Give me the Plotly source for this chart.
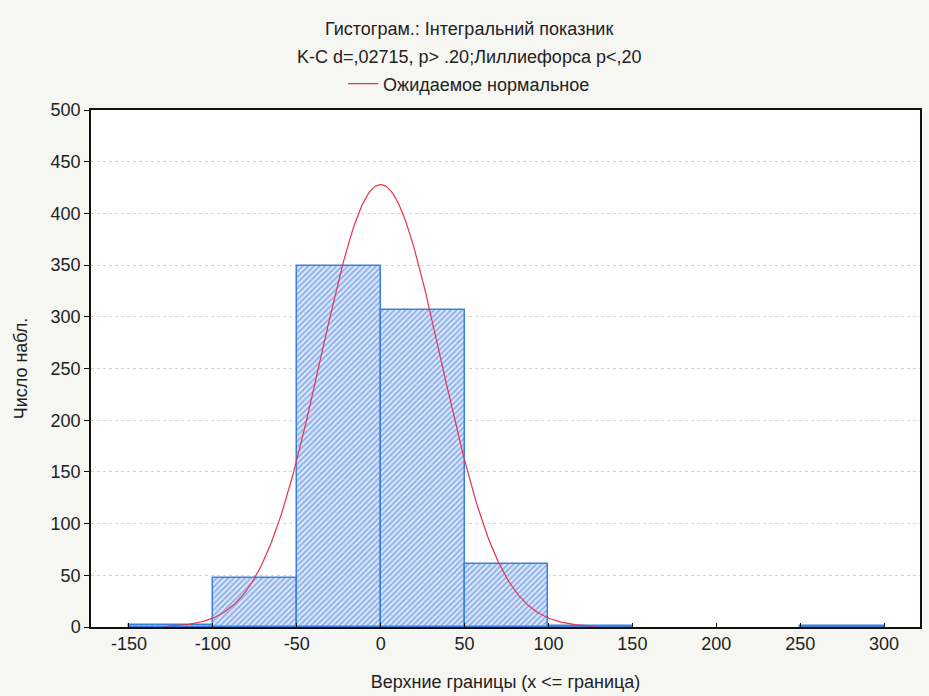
import numpy as np
import plotly.graph_objects as go

# Histogram data (bin upper bounds and counts)
bin_upper = [-100, -50, 0, 50, 100, 150, 200, 250, 300]
counts = [2, 47, 349, 307, 61, 1, 0, 0, 1]
bin_width = 50

# Expected normal parameters
norm_n = 768
norm_mean = 0.0
norm_sd = 35.8
curve_lo, curve_hi = -128, 128

x_ticks = [-150, -100, -50, 0, 50, 100, 150, 200, 250, 300]
y_ticks = [0, 50, 100, 150, 200, 250, 300, 350, 400, 450, 500]

centers = [u - bin_width / 2 for u in bin_upper]
bx = [c for c, n in zip(centers, counts) if n > 0]
by = [n for n in counts if n > 0]

xs = np.linspace(curve_lo, curve_hi, 300)
ys = norm_n * bin_width / (norm_sd * np.sqrt(2 * np.pi)) * np.exp(-0.5 * ((xs - norm_mean) / norm_sd) ** 2)

fig = go.Figure()
fig.add_trace(go.Bar(
    x=bx, y=by, width=bin_width,
    marker=dict(color="#dde8fa",
                line=dict(color="#3a80de", width=1.5),
                pattern=dict(shape="/", fgcolor="#3b79da", bgcolor="#e0eafb", size=4, solidity=0.5)),
    showlegend=False,
))
fig.add_trace(go.Scatter(
    x=xs, y=ys, mode="lines", line=dict(color="#e8324e", width=1.2),
    name="Ожидаемое нормальное", showlegend=True,
))

font = "Liberation Sans, Arial, sans-serif"
FS = 18
L, R, T, B = 91, 7, 110, 69
plot_h = 696 - T - B
plot_w = 929 - L - R
cx = (470 - L) / plot_w

fig.update_layout(
    width=929, height=696,
    margin=dict(l=L, r=R, t=T, b=B),
    paper_bgcolor="#f6f6f3",
    plot_bgcolor="#ffffff",
    font=dict(family=font, size=FS, color="#222222"),
    bargap=0,
    legend=dict(orientation="h", x=cx, xanchor="center", y=(696 - B - 84) / plot_h, yanchor="middle",
                bgcolor="rgba(0,0,0,0)", font=dict(size=FS, color="#222222"),
                itemwidth=30, tracegroupgap=0),
    annotations=[
        dict(text="Гистограм.: Інтегральний показник", x=cx, y=(696 - B - 29) / plot_h,
             xref="paper", yref="paper", yanchor="middle", showarrow=False, font=dict(size=FS)),
        dict(text="K-C d=,02715, p> .20;Лиллиефорса p<,20", x=cx, y=(696 - B - 57) / plot_h,
             xref="paper", yref="paper", yanchor="middle", showarrow=False, font=dict(size=FS)),
    ],
)

fig.update_xaxes(
    range=[-172.6, 321.4], tickvals=x_ticks, ticktext=[str(t) for t in x_ticks],
    showgrid=False, zeroline=False,
    showline=True, linecolor="#111111", linewidth=1.5, mirror=True,
    ticks="inside", ticklen=4, tickcolor="#111111",
    tickfont=dict(size=FS),
    title=dict(text="Верхние границы (x <= граница)", font=dict(size=FS), standoff=22),
)
fig.update_yaxes(
    range=[0, 500], tickvals=y_ticks,
    showgrid=True, gridcolor="#d4d4d4", griddash="dot", gridwidth=1, zeroline=False,
    showline=True, linecolor="#111111", linewidth=1.5, mirror=True,
    ticks="outside", ticklen=5, tickcolor="#111111",
    tickfont=dict(size=FS),
    title=dict(text="Число набл.", font=dict(size=FS), standoff=18),
)

fig.write_html("out.html")
